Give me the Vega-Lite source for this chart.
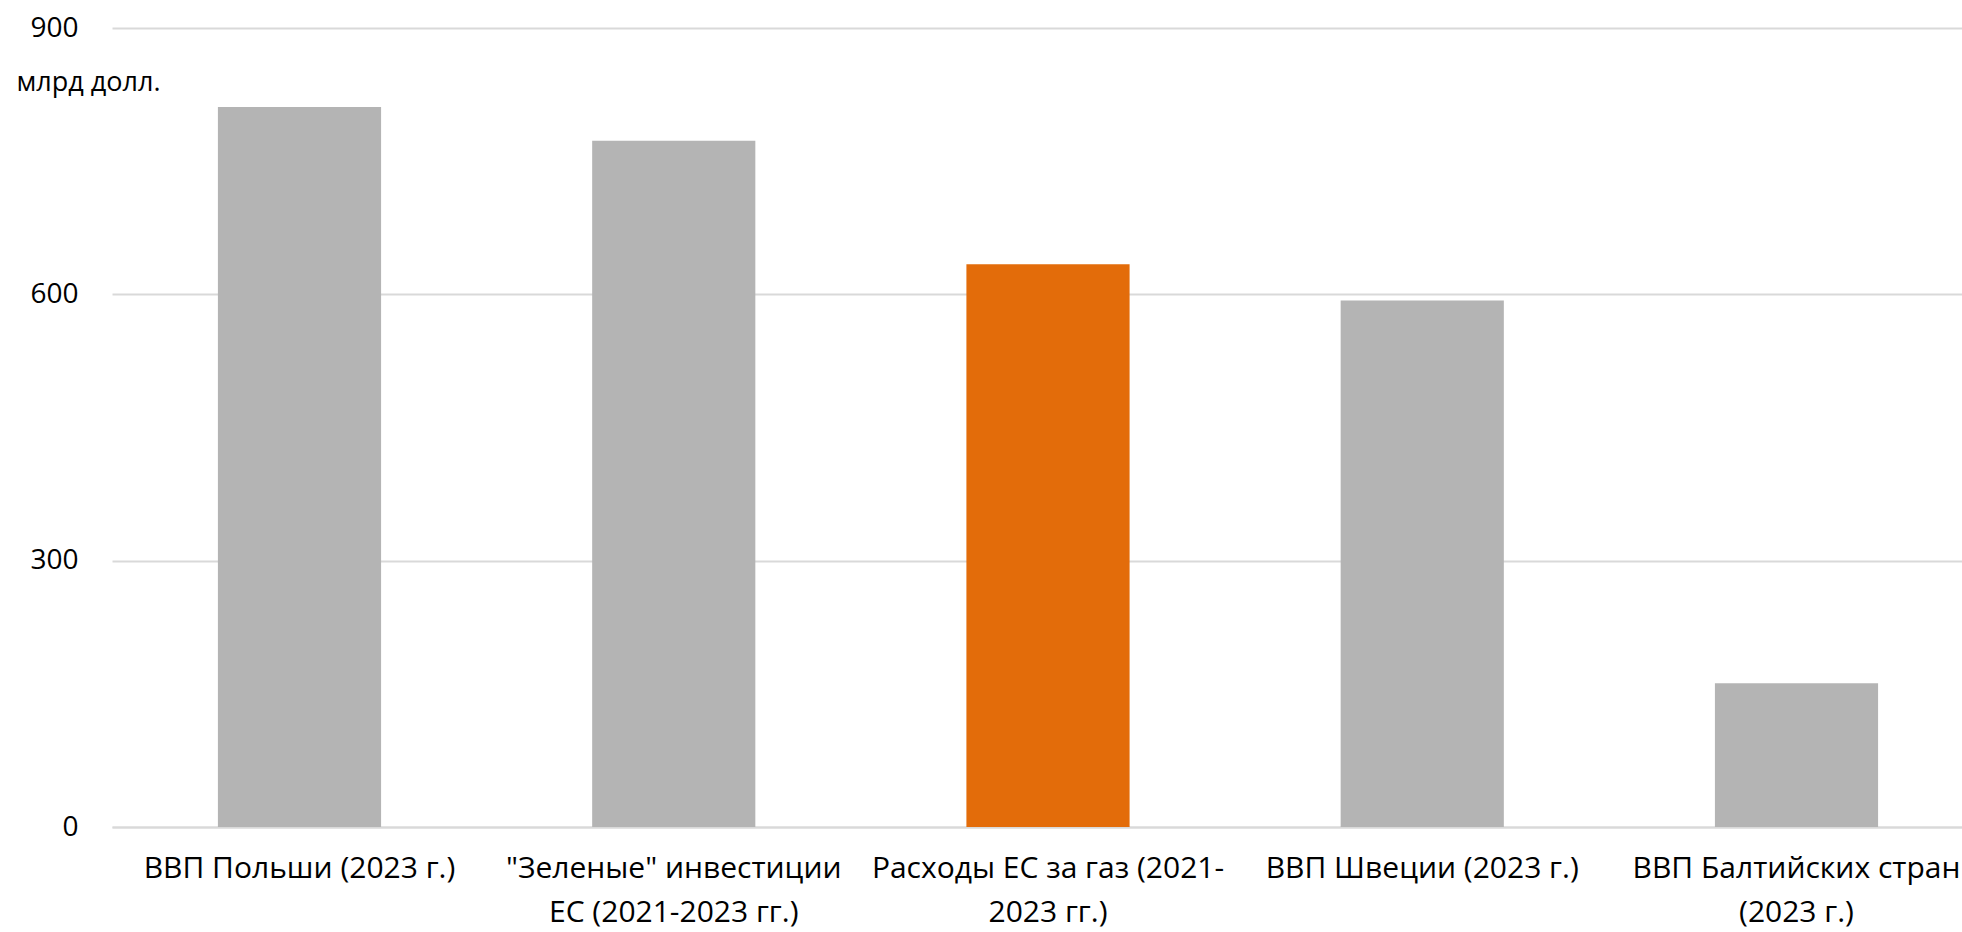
{
  "$schema": "https://vega.github.io/schema/vega-lite/v6.json",
  "width": 1850,
  "height": 799,
  "autosize": "none",
  "padding": {"left": 112, "top": 28, "right": 0, "bottom": 105},
  "background": "white",
  "config": {"view": {"stroke": null}, "font": "Open Sans"},
  "data": {
    "values": [
      {"cat": "ВВП Польши (2023 г.)", "value": 811},
      {"cat": "\"Зеленые\" инвестиции|ЕС (2021-2023 гг.)", "value": 773},
      {"cat": "Расходы ЕС за газ (2021-|2023 гг.)", "value": 634},
      {"cat": "ВВП Швеции (2023 г.)", "value": 593},
      {"cat": "ВВП Балтийских стран|(2023 г.)", "value": 162}
    ]
  },
  "mark": {"type": "bar"},
  "encoding": {
    "x": {
      "field": "cat",
      "type": "nominal",
      "sort": null,
      "scale": {"paddingInner": 0.564, "paddingOuter": 0.283, "range": [0, 1872]},
      "axis": {
        "title": null,
        "labelExpr": "split(datum.label, '|')",
        "labelAngle": 0,
        "labelFontSize": 30,
        "labelColor": "#000000",
        "labelPadding": 26,
        "labelLineHeight": 44,
        "labelLimit": 0,
        "labelBaseline": "top",
        "domainColor": "#d9d9d9",
        "domainWidth": 2,
        "ticks": false
      }
    },
    "y": {
      "field": "value",
      "type": "quantitative",
      "scale": {"domain": [0, 900]},
      "axis": {
        "values": [0, 300, 600, 900],
        "title": "млрд долл.",
        "titleAngle": 0,
        "titleAlign": "left",
        "titleBaseline": "middle",
        "titleX": -96,
        "titleY": 54,
        "titleFontSize": 27,
        "titleFontWeight": "normal",
        "titleColor": "#000000",
        "labelFontSize": 28,
        "labelColor": "#000000",
        "labelPadding": 34,
        "ticks": false,
        "domain": false,
        "gridColor": "#d9d9d9",
        "gridWidth": 2
      }
    },
    "color": {
      "condition": {"test": "indexof(datum.cat, 'газ') >= 0", "value": "#e36c0a"},
      "value": "#b4b4b4"
    }
  }
}
